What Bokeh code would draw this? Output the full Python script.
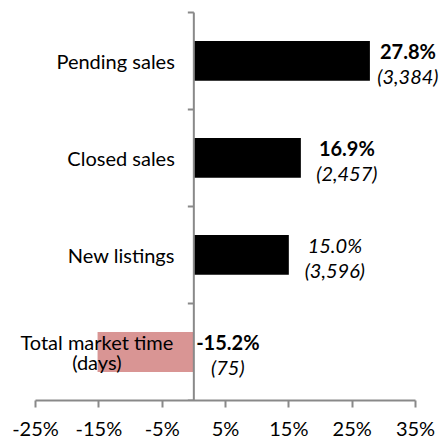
from bokeh.plotting import figure
from bokeh.models import Range1d, FixedTicker, PrintfTickFormatter, ColumnDataSource, Label
from bokeh.embed import file_html
from bokeh.resources import INLINE

# ---- data ----
categories = ["Pending sales", "Closed sales", "New listings", "Total market time\n(days)"]
pct_change = [27.8, 16.9, 15.0, -15.2]
counts = ["(3,384)", "(2,457)", "(3,596)", "(75)"]
pct_bold = [True, True, False, True]
x_ticks = [-25, -15, -5, 5, 15, 25, 35]

FONT = "Lato"
FS = "20px"
AXIS_COLOR = "#898989"
POS_COLOR = "#000000"
NEG_COLOR = "#D99594"

W, H = 439, 442
AX_LEFT_PX, AX_RIGHT_PX = 35, 415      # pixel extent of the x axis line
AX_TOP_PX, AX_BOTTOM_PX = 12, 403      # pixel extent of the category axis line
BOTTOM_BORDER = H - AX_BOTTOM_PX
x_min, x_max = x_ticks[0], x_ticks[-1]
upp = (x_max - x_min) / (AX_RIGHT_PX - AX_LEFT_PX)   # data units per pixel
view_start = x_min - AX_LEFT_PX * upp
view_end = x_max + (W - AX_RIGHT_PX) * upp

n = len(categories)
y_upp = n / (AX_BOTTOM_PX - AX_TOP_PX)
y_view_end = n + AX_TOP_PX * y_upp
# top-to-bottom ordering: first category at the top
ys = [n - i - 0.5 for i in range(n)]
colors = [POS_COLOR if v >= 0 else NEG_COLOR for v in pct_change]

p = figure(width=W, height=H, output_backend="svg", toolbar_location=None,
           x_range=Range1d(view_start, view_end), y_range=Range1d(0, y_view_end),
           min_border_left=0, min_border_right=0, min_border_top=0,
           min_border_bottom=BOTTOM_BORDER)
p.outline_line_color = None
p.xgrid.visible = False
p.ygrid.visible = False
p.yaxis.visible = False
p.background_fill_color = "white"
p.border_fill_color = "white"

# bars
src = ColumnDataSource(dict(y=ys, right=pct_change, color=colors))
p.hbar(y="y", left=0, right="right", height=0.41, fill_color="color",
       line_color=None, source=src)

# x axis
xa = p.xaxis[0]
xa.bounds = (x_min, x_max)
xa.ticker = FixedTicker(ticks=x_ticks)
xa.formatter = PrintfTickFormatter(format="%d%%")
xa.axis_line_color = AXIS_COLOR
xa.axis_line_width = 2
xa.major_tick_line_color = AXIS_COLOR
xa.major_tick_line_width = 2
xa.major_tick_in = 0
xa.major_tick_out = 7
xa.minor_tick_line_color = None
xa.major_label_text_font = FONT
xa.major_label_text_font_size = FS
xa.major_label_text_color = "black"
xa.major_label_standoff = 8

# vertical category axis at x = 0 with ticks on category boundaries
bounds_y = list(range(n + 1))
p.segment(x0=[0], x1=[0], y0=[0], y1=[n], line_color=AXIS_COLOR, line_width=2)
p.segment(x0=[-6 * upp] * len(bounds_y), x1=[0] * len(bounds_y), y0=bounds_y, y1=bounds_y,
          line_color=AXIS_COLOR, line_width=2)

# category labels
for cat, y in zip(categories, ys):
    lines = cat.split("\n")
    if len(lines) > 1:
        nl = len(lines)
        for k, line in enumerate(lines):
            off = (nl - 1) / 2 * 20 - k * 20
            p.add_layout(Label(x=0, y=y, text=line, text_align="center",
                               text_baseline="middle", x_offset=-97, y_offset=off,
                               text_font=FONT, text_font_size=FS, text_color="black"))
    else:
        p.add_layout(Label(x=0, y=y, text=cat, text_align="right", text_baseline="middle",
                           x_offset=-19, y_offset=0, text_font=FONT, text_font_size=FS,
                           text_color="black"))

# data labels
label_dx = [38, 46, 46, 34]
for v, y, c, b, dx in zip(pct_change, ys, counts, pct_bold, label_dx):
    lx = max(v, 0)
    p.add_layout(Label(x=lx, y=y, text="%.1f%%" % v, text_align="center",
                       text_baseline="middle", x_offset=dx, y_offset=10,
                       text_font=FONT, text_font_size=FS,
                       text_font_style="bold" if b else "italic", text_color="black"))
    p.add_layout(Label(x=lx, y=y, text=c, text_align="center", text_baseline="middle",
                       x_offset=dx, y_offset=-15, text_font=FONT, text_font_size=FS,
                       text_font_style="italic", text_color="black"))

open("out.html", "w").write(file_html(p, INLINE))
